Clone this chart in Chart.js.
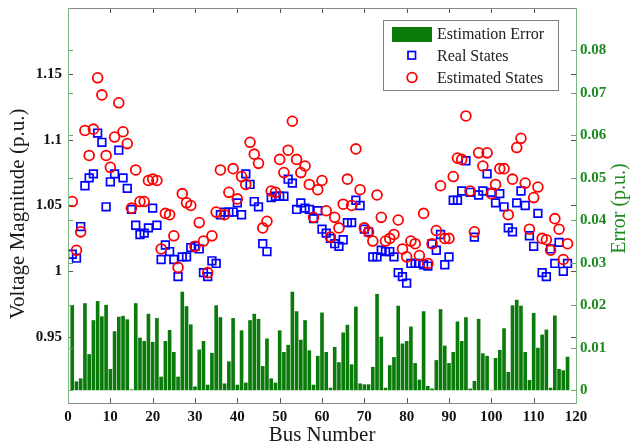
<!DOCTYPE html>
<html>
<head>
<meta charset="utf-8">
<script src="https://cdn.jsdelivr.net/npm/chart.js@4.4.0/dist/chart.umd.min.js"></script>
<style>
  html, body { margin: 0; padding: 0; background: #fff; }
  #wrap { width: 630px; height: 447px; }
</style>
</head>
<body>
<div id="wrap"><canvas id="busChart" width="630" height="447"></canvas></div>
<script>
// bus index 1..118 (IEEE 118-bus system)
const busNumbers = Array.from({ length: 118 }, (_, i) => i + 1);

const realStates = [
  1.013, 1.010, 1.034, 1.065, 1.071, 1.074, 1.105, 1.098, 1.049, 1.068,
  1.074, 1.092, 1.071, 1.063, 1.047, 1.035, 1.028, 1.029, 1.033, 1.048,
  1.035, 1.009, 1.020, 1.015, 1.009, 0.996, 1.011, 1.011, 1.018, 1.019,
  1.017, 0.999, 0.996, 1.008, 1.006, 1.043, 1.045, 1.045, 1.045, 1.052,
  1.043, 1.074, 1.066, 1.053, 1.049, 1.021, 1.015, 1.056, 1.057, 1.057,
  1.057, 1.070, 1.067, 1.047, 1.052, 1.048, 1.047, 1.040, 1.046, 1.032,
  1.029, 1.025, 1.021, 1.019, 1.024, 1.037, 1.037, 1.054, 1.050, 1.032,
  1.030, 1.011, 1.011, 1.016, 1.015, 1.015, 1.011, 0.999, 0.996, 0.991,
  1.006, 1.006, 1.006, 1.005, 1.004, 1.021, 1.016, 1.028, 1.005, 1.011,
  1.054, 1.054, 1.061, 1.084, 1.060, 1.026, 1.058, 1.061, 1.074, 1.060,
  1.052, 1.059, 1.049, 1.033, 1.030, 1.052, 1.061, 1.050, 1.027, 1.019,
  1.044, 0.999, 0.996, 1.017, 1.006, 1.022, 1.000, 1.006
];

const estimatedStates = [
  1.053, 1.016, 1.030, 1.107, 1.088, 1.108, 1.147, 1.134, 1.088, 1.079,
  1.102, 1.128, 1.106, 1.097, 1.048, 1.077, 1.053, 1.053, 1.069, 1.070,
  1.069, 1.017, 1.044, 1.043, 1.027, 1.003, 1.059, 1.052, 1.050, 1.019,
  1.037, 1.023, 0.999, 1.027, 1.045, 1.077, 1.043, 1.060, 1.078, 1.055,
  1.072, 1.066, 1.098, 1.089, 1.082, 1.033, 1.038, 1.061, 1.060, 1.085,
  1.075, 1.092, 1.114, 1.085, 1.075, 1.080, 1.066, 1.041, 1.062, 1.069,
  1.046, 1.026, 1.041, 1.033, 1.051, 1.070, 1.050, 1.093, 1.062, 1.033,
  1.030, 1.023, 1.058, 1.041, 1.023, 1.025, 1.028, 1.039, 1.017, 1.011,
  1.023, 1.021, 1.012, 1.044, 1.006, 1.021, 1.031, 1.065, 1.025, 1.025,
  1.072, 1.086, 1.085, 1.118, 1.061, 1.030, 1.090, 1.080, 1.090, 1.059,
  1.066, 1.078, 1.078, 1.043, 1.070, 1.094, 1.101, 1.067, 1.032, 1.056,
  1.064, 1.025, 1.024, 1.016, 1.040, 1.032, 1.009, 1.021
];

const estimationError = [
  0.0201, 0.0021, 0.0028, 0.0205, 0.0085, 0.0165, 0.0210, 0.0174, 0.0201, 0.0050,
  0.0139, 0.0173, 0.0175, 0.0167, 0.0002, 0.0205, 0.0124, 0.0116, 0.0180, 0.0114,
  0.0170, 0.0032, 0.0116, 0.0142, 0.0090, 0.0032, 0.0232, 0.0198, 0.0155, 0.0009,
  0.0096, 0.0116, 0.0013, 0.0088, 0.0200, 0.0172, 0.0016, 0.0068, 0.0170, 0.0013,
  0.0141, 0.0018, 0.0165, 0.0180, 0.0168, 0.0057, 0.0122, 0.0028, 0.0018, 0.0141,
  0.0090, 0.0107, 0.0232, 0.0186, 0.0119, 0.0165, 0.0094, 0.0013, 0.0081, 0.0183,
  0.0090, 0.0006, 0.0102, 0.0066, 0.0136, 0.0154, 0.0061, 0.0197, 0.0016, 0.0014,
  0.0014, 0.0055, 0.0227, 0.0126, 0.0006, 0.0059, 0.0078, 0.0199, 0.0110, 0.0116,
  0.0150, 0.0064, 0.0025, 0.0186, 0.0010, 0.0004, 0.0071, 0.0191, 0.0105, 0.0064,
  0.0090, 0.0162, 0.0116, 0.0172, 0.0004, 0.0022, 0.0168, 0.0087, 0.0081, 0.0001,
  0.0076, 0.0095, 0.0146, 0.0043, 0.0200, 0.0213, 0.0199, 0.0090, 0.0024, 0.0182,
  0.0100, 0.0131, 0.0143, 0.0006, 0.0176, 0.0050, 0.0047, 0.0079
];

const busTicks = [0, 10, 20, 30, 40, 50, 60, 70, 80, 90, 100, 110, 120];
const voltageTicks = [0.95, 1, 1.05, 1.1, 1.15];
const errorTicks = [0, 0.01, 0.02, 0.03, 0.04, 0.05, 0.06, 0.07, 0.08];

const GREEN = '#0a7a0a';
const AXIS_GREEN = '#1f8a1f';
const serif = '"Liberation Serif", "Times New Roman", serif';

function toPoints(values) {
  return busNumbers.map((b, i) => ({ x: b, y: values[i] }));
}

// frame, inward tick marks, axis titles and the boxed legend (MATLAB plotyy look)
const plotyyDecor = {
  id: 'plotyyDecor',
  afterDraw(chart) {
    const { ctx, chartArea: a, scales } = chart;
    const { x, y, y1 } = scales;
    ctx.save();

    // tick marks pointing into the plot
    ctx.lineWidth = 1;
    ctx.strokeStyle = '#555';
    busTicks.forEach(v => {
      const px = Math.round(x.getPixelForValue(v)) + 0.5;
      ctx.beginPath();
      ctx.moveTo(px, a.bottom); ctx.lineTo(px, a.bottom - 5);
      ctx.moveTo(px, a.top); ctx.lineTo(px, a.top + 5);
      ctx.stroke();
    });
    voltageTicks.forEach(v => {
      const py = Math.round(y.getPixelForValue(v)) + 0.5;
      ctx.beginPath();
      ctx.moveTo(a.left, py); ctx.lineTo(a.left + 5, py);
      ctx.moveTo(a.right, py); ctx.lineTo(a.right - 5, py);
      ctx.stroke();
    });
    ctx.strokeStyle = '#6aa86a';
    errorTicks.forEach(v => {
      const py = Math.round(y1.getPixelForValue(v)) + 0.5;
      ctx.beginPath();
      ctx.moveTo(a.right, py); ctx.lineTo(a.right - 5, py);
      ctx.moveTo(a.left, py); ctx.lineTo(a.left + 5, py);
      ctx.stroke();
    });

    // box
    ctx.strokeStyle = '#8a8a8a';
    ctx.beginPath();
    ctx.moveTo(a.left, a.top + 0.5); ctx.lineTo(a.right, a.top + 0.5);
    ctx.moveTo(a.left, a.bottom + 0.5); ctx.lineTo(a.right, a.bottom + 0.5);
    ctx.stroke();
    ctx.strokeStyle = '#7fb87f';
    ctx.beginPath();
    ctx.moveTo(Math.round(a.left) + 0.5, a.top); ctx.lineTo(Math.round(a.left) + 0.5, a.bottom);
    ctx.moveTo(Math.round(a.right) + 0.5, a.top); ctx.lineTo(Math.round(a.right) + 0.5, a.bottom + 1);
    ctx.stroke();

    // axis titles
    ctx.textAlign = 'center';
    ctx.textBaseline = 'middle';
    ctx.font = '21px ' + serif;
    ctx.fillStyle = '#1a1a1a';
    ctx.fillText('Bus Number', (a.left + a.right) / 2, 435);

    ctx.save();
    ctx.translate(18, 214);
    ctx.rotate(-Math.PI / 2);
    ctx.fillText('Voltage Magnitude (p.u.)', 0, 0);
    ctx.restore();

    ctx.font = '20px ' + serif;
    ctx.save();
    ctx.fillStyle = AXIS_GREEN;
    ctx.translate(620, (a.top + a.bottom) / 2 + 3);
    ctx.rotate(-Math.PI / 2);
    ctx.fillText('Error (p.u.)', 0, 0);
    ctx.restore();

    // legend
    ctx.fillStyle = '#fff';
    ctx.fillRect(383.5, 20.5, 175, 70);
    ctx.strokeStyle = '#808080';
    ctx.lineWidth = 1;
    ctx.strokeRect(383.5, 20.5, 175, 70);

    ctx.fillStyle = GREEN;
    ctx.fillRect(392, 27, 40, 15);

    ctx.strokeStyle = '#0000ff';
    ctx.lineWidth = 1.7;
    ctx.strokeRect(408, 51.5, 7.5, 7.5);

    ctx.strokeStyle = '#ff0000';
    ctx.lineWidth = 1.8;
    ctx.beginPath();
    ctx.arc(412, 77.5, 4.8, 0, Math.PI * 2);
    ctx.stroke();

    ctx.fillStyle = '#222';
    ctx.font = '16px ' + serif;
    ctx.textAlign = 'left';
    ctx.fillText('Estimation Error', 437, 34.5);
    ctx.fillText('Real States', 437, 57);
    ctx.fillText('Estimated States', 437, 79);

    ctx.restore();
  }
};

const ctx = document.getElementById('busChart').getContext('2d');

const busChart = new Chart(ctx, {
  type: 'bar',
  data: {
    datasets: [
      {
        type: 'bar',
        label: 'Estimation Error',
        data: toPoints(estimationError),
        xAxisID: 'x',
        yAxisID: 'y1',
        backgroundColor: GREEN,
        borderWidth: 0,
        barPercentage: 1,
        categoryPercentage: 0.86,
        order: 3,
      },
      {
        type: 'scatter',
        label: 'Real States',
        data: toPoints(realStates),
        xAxisID: 'x',
        yAxisID: 'y',
        showLine: false,
        pointStyle: 'rect',
        pointRadius: 5.4,
        pointBorderWidth: 1.7,
        pointBorderColor: '#0000ff',
        pointBackgroundColor: 'rgba(0,0,0,0)',
        order: 2,
      },
      {
        type: 'scatter',
        label: 'Estimated States',
        data: toPoints(estimatedStates),
        xAxisID: 'x',
        yAxisID: 'y',
        showLine: false,
        pointStyle: 'circle',
        pointRadius: 4.9,
        pointBorderWidth: 1.8,
        pointBorderColor: '#ff0000',
        pointBackgroundColor: 'rgba(0,0,0,0)',
        order: 1,
      },
    ],
  },
  options: {
    responsive: false,
    animation: false,
    devicePixelRatio: 1,
    layout: { padding: { top: 8, left: 0, right: 0, bottom: 0 } },
    plugins: {
      legend: { display: false },
      tooltip: { enabled: false },
    },
    scales: {
      x: {
        type: 'linear',
        min: 0,
        max: 120,
        offset: false,
        grid: { display: false, drawTicks: false },
        border: { display: false },
        afterBuildTicks: s => { s.ticks = busTicks.map(v => ({ value: v })); },
        afterFit: s => { s.height = 44; s.paddingLeft = 0; s.paddingRight = 0; },
        ticks: {
          autoSkip: false,
          maxRotation: 0,
          padding: 5,
          color: '#111',
          font: { family: serif, size: 15, weight: 'bold' },
        },
      },
      y: {
        position: 'left',
        min: 0.9,
        max: 1.2,
        grid: { display: false, drawTicks: false },
        border: { display: false },
        afterBuildTicks: s => { s.ticks = voltageTicks.map(v => ({ value: v })); },
        afterFit: s => { s.width = 68; s.paddingTop = 0; s.paddingBottom = 0; },
        ticks: {
          padding: 6,
          color: '#111',
          font: { family: serif, size: 15, weight: 'bold' },
          callback: v => String(v),
        },
      },
      y1: {
        position: 'right',
        min: -0.003,
        max: 0.09,
        grid: { display: false, drawTicks: false },
        border: { display: false },
        afterBuildTicks: s => { s.ticks = errorTicks.map(v => ({ value: v })); },
        afterFit: s => { s.width = 54; s.paddingTop = 0; s.paddingBottom = 0; },
        ticks: {
          padding: 4,
          color: AXIS_GREEN,
          font: { family: serif, size: 15, weight: 'bold' },
          callback: v => String(v),
        },
      },
    },
  },
  plugins: [plotyyDecor],
});
</script>
</body>
</html>
